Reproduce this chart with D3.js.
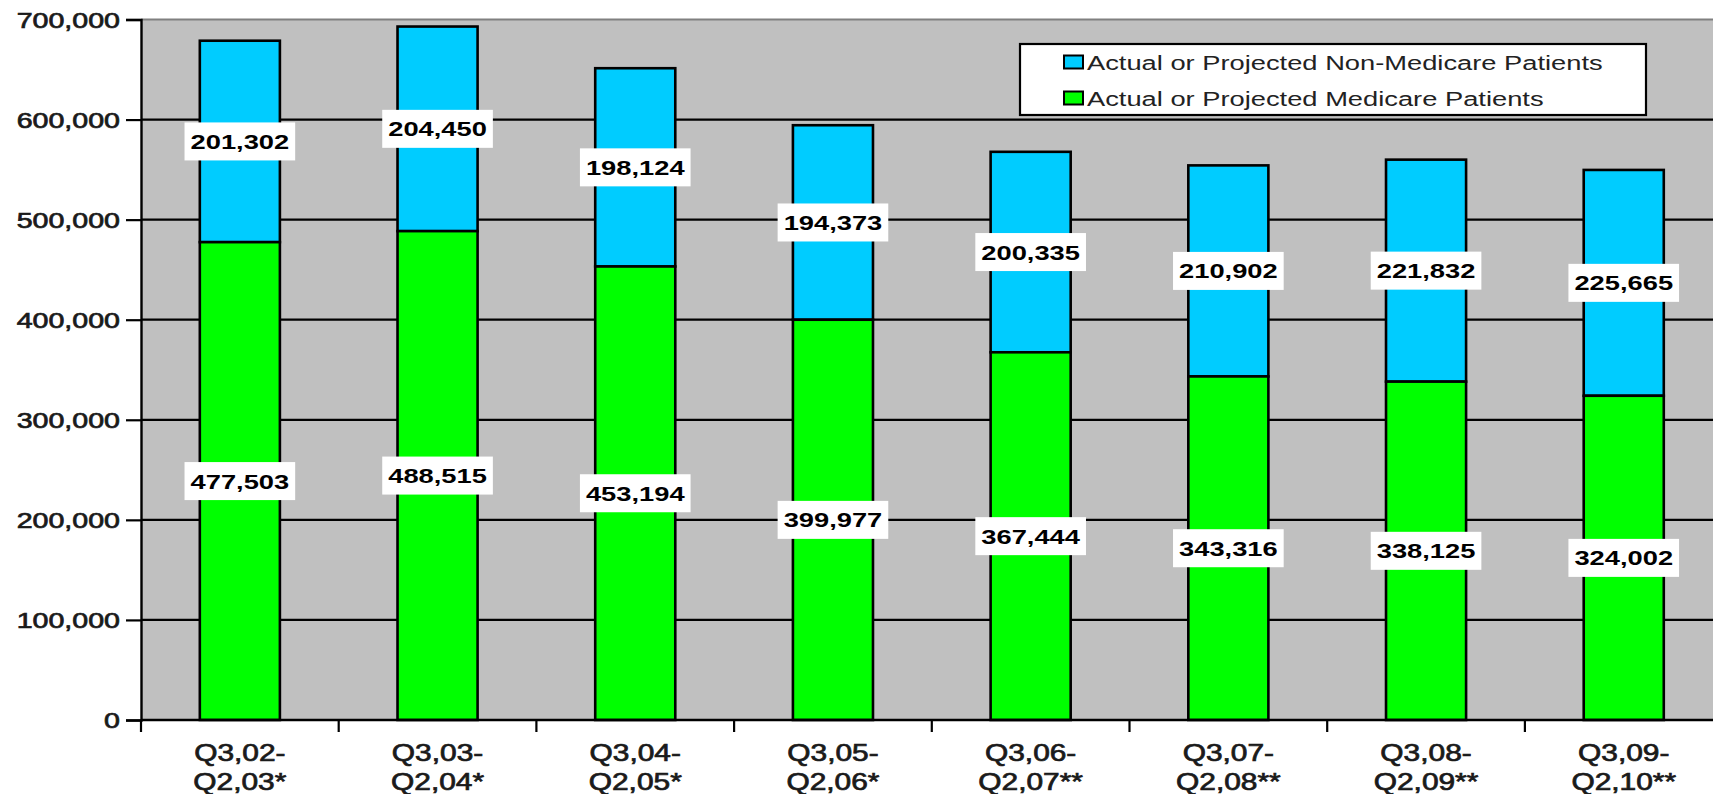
<!DOCTYPE html>
<html>
<head>
<meta charset="utf-8">
<script src="https://cdn.jsdelivr.net/npm/d3@7/dist/d3.min.js"></script>
<style>
  html, body { margin: 0; padding: 0; background: #ffffff; }
  svg { display: block; }
  text { font-family: "Liberation Sans", Arial, Helvetica, sans-serif; }
</style>
</head>
<body>
<svg id="chart" width="1713" height="794"></svg>
<script>
// Fiscal-year periods (Q3 through Q2 of the following year)
const categories = [
  "Q3,02-Q2,03*", "Q3,03-Q2,04*", "Q3,04-Q2,05*", "Q3,05-Q2,06*",
  "Q3,06-Q2,07**", "Q3,07-Q2,08**", "Q3,08-Q2,09**", "Q3,09-Q2,10**"
];
// Actual or projected Medicare patients (bottom segment)
const medicare = [477503, 488515, 453194, 399977, 367444, 343316, 338125, 324002];
// Actual or projected non-Medicare patients (top segment)
const nonMedicare = [201302, 204450, 198124, 194373, 200335, 210902, 221832, 225665];
// Y axis ticks
const yTicks = [0, 100000, 200000, 300000, 400000, 500000, 600000, 700000];
const seriesNames = ["Actual or Projected Non-Medicare Patients", "Actual or Projected Medicare Patients"];
const seriesColors = ["#00ccff", "#00ff00"];

const svg = d3.select("#chart");
const W = 1713;
const plot = { left: 141, top: 19.5, bottom: 720, band: 197.7 };
const SX = 1.3; // horizontal stretch of the lettering

const x = d3.scaleBand()
  .domain(categories)
  .range([plot.left, plot.left + plot.band * categories.length])
  .paddingInner(0).paddingOuter(0);
const y = d3.scaleLinear().domain([0, 700000]).range([plot.bottom, plot.top]);

// plot background
svg.append("rect")
  .attr("x", plot.left).attr("y", plot.top)
  .attr("width", W - plot.left).attr("height", plot.bottom - plot.top)
  .attr("fill", "#c0c0c0");
svg.append("line")
  .attr("x1", plot.left).attr("x2", W)
  .attr("y1", plot.top).attr("y2", plot.top)
  .attr("stroke", "#808080").attr("stroke-width", 2);

// gridlines
svg.append("g").selectAll("line")
  .data(yTicks.filter(d => d > 0 && d < 700000))
  .join("line")
  .attr("x1", plot.left).attr("x2", W)
  .attr("y1", d => y(d)).attr("y2", d => y(d))
  .attr("stroke", "#000").attr("stroke-width", 2.2);

// stacked bars
const rows = categories.map((c, i) => ({ c, med: medicare[i], non: nonMedicare[i] }));
const barW = x.bandwidth() * 0.405;
const bx = d => x(d.c) + (x.bandwidth() - barW) / 2;

const bars = svg.append("g");
bars.selectAll("rect.non")
  .data(rows).join("rect").attr("class", "non")
  .attr("x", bx).attr("width", barW)
  .attr("y", d => y(d.med + d.non))
  .attr("height", d => y(d.med) - y(d.med + d.non))
  .attr("fill", seriesColors[0])
  .attr("stroke", "#000").attr("stroke-width", 2.6);
bars.selectAll("rect.med")
  .data(rows).join("rect").attr("class", "med")
  .attr("x", bx).attr("width", barW)
  .attr("y", d => y(d.med))
  .attr("height", d => y(0) - y(d.med))
  .attr("fill", seriesColors[1])
  .attr("stroke", "#000").attr("stroke-width", 2.6);

// y axis
const yAxis = svg.append("g")
  .attr("transform", `translate(${plot.left},0)`)
  .call(d3.axisLeft(y).tickValues(yTicks).tickFormat(d3.format(",")).tickSize(15).tickPadding(6));
yAxis.select(".domain").attr("stroke", "#000").attr("stroke-width", 2.4);
yAxis.selectAll(".tick line").attr("stroke", "#000").attr("stroke-width", 2.2);
yAxis.selectAll(".tick text")
  .attr("x", -21 / SX)
  .attr("dy", "0.36em")
  .attr("transform", `scale(${SX},1)`)
  .attr("font-size", 22).attr("font-weight", "normal")
  .attr("fill", "#1a1a1a")
  .attr("stroke", "#1a1a1a").attr("stroke-width", 0.7)
  .attr("font-family", "Liberation Sans, Arial, sans-serif");

// x axis line
svg.append("line")
  .attr("x1", plot.left).attr("x2", W)
  .attr("y1", plot.bottom).attr("y2", plot.bottom)
  .attr("stroke", "#000").attr("stroke-width", 2.4);
// ticks at the category boundaries
const bounds = categories.map(c => x(c)).concat([x.range()[1]]).filter(v => v <= W);
svg.append("g").selectAll("line")
  .data(bounds).join("line")
  .attr("x1", d => d).attr("x2", d => d)
  .attr("y1", plot.bottom).attr("y2", plot.bottom + 12)
  .attr("stroke", "#000").attr("stroke-width", 2.2);

// category labels, two lines each
const xl = svg.append("g").selectAll("g")
  .data(categories).join("g")
  .attr("transform", d => `translate(${x(d) + x.bandwidth() / 2},0)`);
xl.each(function (d) {
  const k = d.indexOf("-");
  const lines = [d.slice(0, k + 1), d.slice(k + 1)];
  const g = d3.select(this);
  lines.forEach((t, j) => {
    g.append("text")
      .attr("transform", `translate(0,${761 + j * 29}) scale(${SX},1)`)
      .attr("text-anchor", "middle")
      .attr("font-size", 23)
      .attr("fill", "#1a1a1a")
      .attr("stroke", "#1a1a1a").attr("stroke-width", 0.7)
      .text(t);
  });
});

// value labels in white boxes at each segment's middle
const labels = [];
rows.forEach(d => {
  labels.push({ cx: x(d.c) + x.bandwidth() / 2, cy: y(d.med / 2), v: d.med });
  labels.push({ cx: x(d.c) + x.bandwidth() / 2, cy: y(d.med + d.non / 2), v: d.non });
});
const lg = svg.append("g").selectAll("g").data(labels).join("g")
  .attr("transform", d => `translate(${d.cx},${d.cy})`);
lg.append("rect").attr("fill", "#fff");
lg.append("text")
  .attr("transform", `translate(0,7.5) scale(${SX},1)`)
  .attr("text-anchor", "middle")
  .attr("font-size", 21).attr("font-weight", "bold")
  .attr("fill", "#000")
  .text(d => d3.format(",")(d.v));
lg.each(function () {
  const g = d3.select(this);
  const w = g.select("text").node().getComputedTextLength() * SX + 12;
  g.select("rect").attr("x", -w / 2).attr("y", -19).attr("width", w).attr("height", 38);
});

// legend
const leg = svg.append("g");
leg.append("rect")
  .attr("x", 1020).attr("y", 44).attr("width", 626).attr("height", 71)
  .attr("fill", "#fff").attr("stroke", "#000").attr("stroke-width", 2.2);
seriesNames.forEach((name, i) => {
  const cy = 62 + i * 36;
  leg.append("rect")
    .attr("x", 1064).attr("y", cy - 6.5).attr("width", 19).attr("height", 13)
    .attr("fill", seriesColors[i]).attr("stroke", "#000").attr("stroke-width", 2);
  leg.append("text")
    .attr("transform", `translate(1087,${cy + 8}) scale(${SX},1)`)
    .attr("font-size", 21)
    .attr("fill", "#222")
    .text(name);
});
</script>
</body>
</html>
